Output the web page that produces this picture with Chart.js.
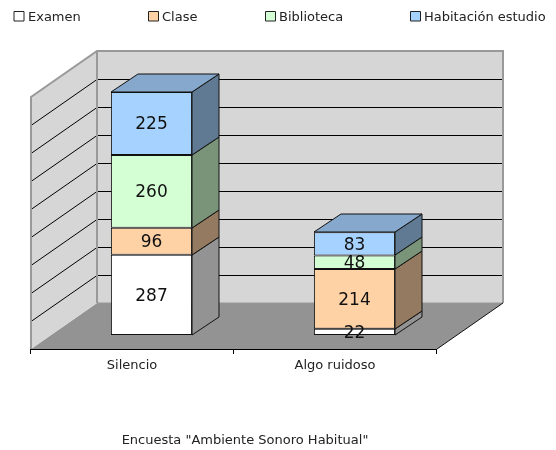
<!DOCTYPE html>
<html><head><meta charset="utf-8">
<style>html,body{margin:0;padding:0;background:#fff}canvas{display:block}</style>
<script src="https://cdn.jsdelivr.net/npm/chart.js@4/dist/chart.umd.min.js"></script>
</head><body><canvas id="c" width="556" height="450"></canvas>
<script>
const categories = ['Silencio', 'Algo ruidoso'];
const seriesNames = ['Examen', 'Clase', 'Biblioteca', 'Habitación estudio'];
const examen = [287, 22];
const clase = [96, 214];
const biblioteca = [260, 48];
const habitacion = [225, 83];
const seriesColors = ['#ffffff', '#ffd2a6', '#d4ffd4', '#a6d2ff'];
const topColors = ['#cccccc', '#cca885', '#aaccaa', '#85a8cc'];
const sideColors = ['#939393', '#947a60', '#7a947a', '#607a94'];
const caption = 'Encuesta "Ambiente Sonoro Habitual"';
const FONT = '"DejaVu Sans"';

const depth3d = {
  id: 'depth3d',
  afterLayout(chart) {
    const s = chart.scales.xFront;
    s.left = 30.5; s.right = 436.5; s.width = 406; s.top = 349; s.bottom = 380;
    s.configure();
    const t = chart.titleBlock;
    t.left = 120; t.right = 370; t.width = 250; t.top = 433.5; t.bottom = 447.5;
  },
  beforeDatasetsDraw(chart) {
    const {ctx, chartArea: a, scales: {y}} = chart;
    const fx = -19, fy = 14, bx = 47, by = -32;
    const yMin = y.getPixelForValue(y.min), yMax = y.getPixelForValue(y.max);
    const poly = (pts, fill) => {
      ctx.beginPath();
      pts.forEach((p, i) => i ? ctx.lineTo(p[0], p[1]) : ctx.moveTo(p[0], p[1]));
      ctx.closePath();
      ctx.fillStyle = fill; ctx.fill();
    };
    ctx.save();
    // floor
    poly([[a.left + fx, yMin + fy], [a.right + fx, yMin + fy], [a.right + bx, yMin + by], [a.left + bx, yMin + by]], '#939393');
    // back and left walls
    poly([[a.left + bx, yMin + by], [a.right + bx, yMin + by], [a.right + bx, yMax + by], [a.left + bx, yMax + by]], '#d6d6d6');
    poly([[a.left + fx, yMin + fy], [a.left + bx, yMin + by], [a.left + bx, yMax + by], [a.left + fx, yMax + fy]], '#d6d6d6');
    // gridlines
    ctx.strokeStyle = '#000'; ctx.lineWidth = 1;
    y.ticks.forEach(t => {
      if (t.value === y.min || t.value === y.max) return;
      const p = Math.round(y.getPixelForValue(t.value)) + 0.5;
      ctx.beginPath();
      ctx.moveTo(a.left + fx, p + fy);
      ctx.lineTo(a.left + bx, p + by);
      ctx.lineTo(a.right + bx, p + by);
      ctx.stroke();
    });
    // wall frame
    ctx.strokeStyle = '#999999'; ctx.lineWidth = 2; ctx.lineJoin = 'miter';
    ctx.beginPath();
    ctx.moveTo(a.left + fx, yMin + fy);
    ctx.lineTo(a.left + fx, yMax + fy);
    ctx.lineTo(a.left + bx, yMax + by);
    ctx.lineTo(a.right + bx, yMax + by);
    ctx.lineTo(a.right + bx, yMin + by);
    ctx.moveTo(a.left + bx, yMax + by);
    ctx.lineTo(a.left + bx, yMin + by);
    ctx.stroke();
    // back wall bottom edge and floor right edge
    ctx.lineWidth = 1;
    ctx.strokeStyle = '#999999';
    ctx.beginPath();
    ctx.moveTo(a.left + bx, yMin + by);
    ctx.lineTo(a.right + bx, yMin + by);
    ctx.stroke();
    ctx.strokeStyle = '#111';
    ctx.beginPath();
    ctx.moveTo(a.right + fx, yMin + fy);
    ctx.lineTo(a.right + bx, yMin + by);
    ctx.stroke();
    ctx.restore();
  },
  afterDatasetsDraw(chart) {
    const {ctx} = chart;
    const dx = 27, dy = -18;
    ctx.save();
    ctx.lineWidth = 1;
    ctx.strokeStyle = '#111';
    ctx.lineJoin = 'round';
    const n = chart.data.datasets.length;
    chart.data.datasets.forEach((ds, i) => {
      chart.getDatasetMeta(i).data.forEach(bar => {
        const r = Math.round(bar.x + bar.width / 2);
        const l = Math.round(bar.x - bar.width / 2);
        const t = Math.round(bar.y), b = Math.round(bar.base);
        ctx.fillStyle = sideColors[i];
        ctx.beginPath();
        ctx.moveTo(r, t); ctx.lineTo(r + dx, t + dy); ctx.lineTo(r + dx, b + dy); ctx.lineTo(r, b);
        ctx.closePath(); ctx.fill(); ctx.stroke();
        if (i === n - 1) {
          ctx.fillStyle = topColors[i];
          ctx.beginPath();
          ctx.moveTo(l, t); ctx.lineTo(l + dx, t + dy); ctx.lineTo(r + dx, t + dy); ctx.lineTo(r, t);
          ctx.closePath(); ctx.fill(); ctx.stroke();
        }
      });
    });
    // value labels
    ctx.fillStyle = '#111';
    ctx.font = '17px ' + FONT;
    ctx.textAlign = 'center';
    ctx.textBaseline = 'middle';
    chart.data.datasets.forEach((ds, i) => {
      chart.getDatasetMeta(i).data.forEach((bar, j) => {
        ctx.fillText(String(ds.data[j]), bar.x, (bar.y + bar.base) / 2 + 1.5);
      });
    });
    // legend
    const starts = [14, 148.5, 265.5, 410.5];
    const textStarts = [28, 162, 279, 424];
    ctx.font = '13px ' + FONT;
    ctx.textAlign = 'left';
    ctx.textBaseline = 'alphabetic';
    chart.data.datasets.forEach((ds, i) => {
      ctx.fillStyle = ds.backgroundColor;
      ctx.fillRect(starts[i], 11.5, 10, 9.5);
      ctx.strokeStyle = '#222';
      ctx.strokeRect(starts[i], 11.5, 10, 9.5);
      ctx.fillStyle = '#222';
      ctx.fillText(ds.label, textStarts[i], 21);
    });
    ctx.restore();
  }
};

const seriesValues = [examen, clase, biblioteca, habitacion];
new Chart(document.getElementById('c'), {
  type: 'bar',
  data: {
    labels: categories,
    datasets: seriesNames.map((name, i) => ({
      label: name,
      data: seriesValues[i],
      backgroundColor: seriesColors[i],
      borderColor: '#111',
      borderWidth: 1,
      borderSkipped: false,
      categoryPercentage: 1,
      barPercentage: 0.4
    }))
  },
  options: {
    responsive: false,
    animation: false,
    layout: { padding: { left: 50, right: 100, top: 83, bottom: 0 } },
    plugins: {
      legend: { display: false },
      tooltip: { enabled: false },
      title: {
        display: true, position: 'bottom', text: caption, align: 'center',
        color: '#222', padding: 0,
        font: { family: FONT, size: 13, weight: 'normal', lineHeight: '14px' }
      }
    },
    scales: {
      x: { stacked: true, display: false },
      y: { stacked: true, display: false, min: 0, max: 900, ticks: { stepSize: 100 } },
      xFront: {
        type: 'category', position: 'bottom', labels: categories, offset: true,
        grid: { offset: true, drawOnChartArea: false, color: '#000', tickLength: 5 },
        border: { color: '#000', width: 1 },
        ticks: { color: '#222', font: { family: FONT, size: 13 }, padding: 4, maxRotation: 0 },
        afterFit(s) { s.height = 101; }
      }
    }
  },
  plugins: [depth3d]
});
</script></body></html>
